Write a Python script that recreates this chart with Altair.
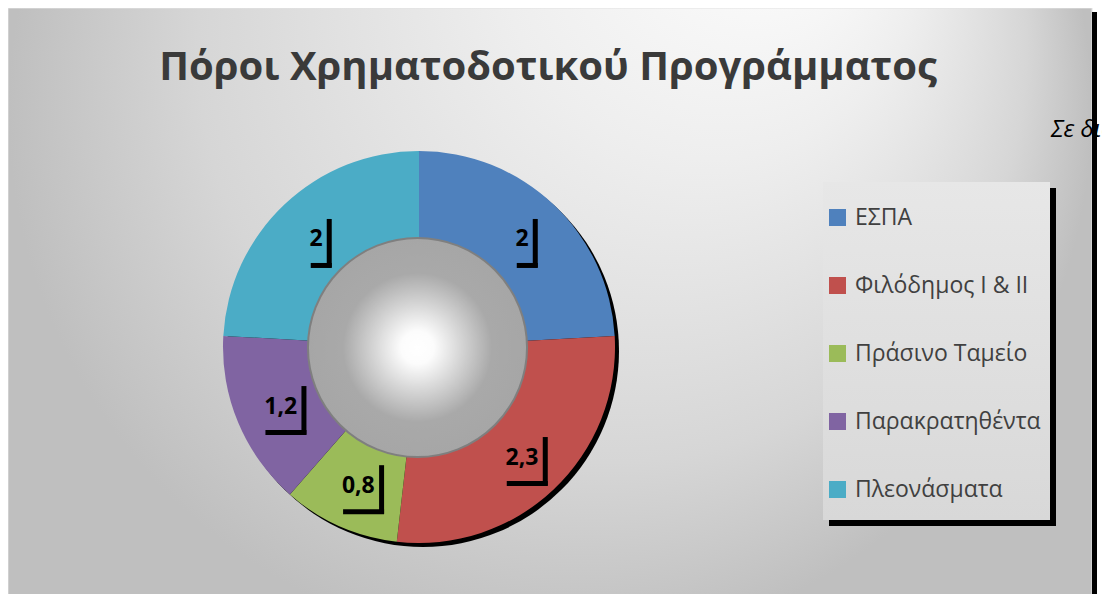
import math
import altair as alt
import pandas as pd

# ---- data ----
categories = ["ΕΣΠΑ", "Φιλόδημος I & II", "Πράσινο Ταμείο", "Παρακρατηθέντα", "Πλεονάσματα"]
values = [2.0, 2.3, 0.8, 1.2, 2.0]
colors = ["#4f81bd", "#c0504d", "#9bbb59", "#8064a2", "#4bacc6"]
title_text = ["Πόροι Χρηματοδοτικού Προγράμματος"]
unit_text = ["Σε δισ. €"]

# ---- layout (view pixels) ----
W, H = 1094, 586
CX, CY = 411, 339
R_OUT, R_IN, R_LAB = 196, 100, 150

df = pd.DataFrame({"cat": categories, "value": values, "idx": list(range(len(values)))})

total = sum(values)
rows = []
cum = 0.0
for c, v in zip(categories, values):
    mid = (cum + v / 2) / total * 2 * math.pi
    cum += v
    lx = CX + R_LAB * math.sin(mid)
    ly = CY - R_LAB * math.cos(mid)
    lab = f"{v:g}".replace(".", ",")
    w = sum(6.5 if ch == "," else 13.5 for ch in lab)
    rows.append(dict(label=lab, x=lx, yb=ly + 8.5,
                     vx=lx + w / 2 + 6.5, vy1=ly - 19, vy2=ly + 29.5,
                     hx1=lx - w / 2 + 1.5, hx2=lx + w / 2 + 9, hy=ly + 27.5))
lab_df = pd.DataFrame(rows)

one = pd.DataFrame({"k": [0]})
FULL = 2 * math.pi

bg_grad = {
    "gradient": "radial",
    "x1": 0.73, "y1": 0.09, "r1": 0.03,
    "x2": 0.5, "y2": 0.32, "r2": 0.5,
    "stops": [
        {"offset": 0.0, "color": "#ffffff"},
        {"offset": 0.35, "color": "#eeeeee"},
        {"offset": 0.75, "color": "#d6d6d6"},
        {"offset": 1.0, "color": "#bfbfbf"},
    ],
}
hole_grad = {
    "gradient": "radial",
    "x1": 0.5, "y1": 0.5, "r1": 0.0,
    "x2": 0.5, "y2": 0.5, "r2": 0.5,
    "stops": [
        {"offset": 0.0, "color": "#ffffff"},
        {"offset": 0.15, "color": "#fcfcfc"},
        {"offset": 0.68, "color": "#a9a9a9"},
        {"offset": 1.0, "color": "#a6a6a6"},
    ],
}
legend_grad = {
    "gradient": "linear",
    "x1": 0, "y1": 0, "x2": 0, "y2": 1,
    "stops": [
        {"offset": 0.0, "color": "#e7e7e7"},
        {"offset": 1.0, "color": "#d8d8d8"},
    ],
}

background = alt.Chart(one).mark_rect(fill=bg_grad, stroke="#e2e2e2", strokeWidth=1).encode(
    x=alt.value(0), x2=alt.value(1084), y=alt.value(0), y2=alt.value(594)
)

title = alt.Chart(pd.DataFrame({"t": title_text})).mark_text(
    font="Open Sans", fontSize=40, fontWeight="bold", color="#3a3a3a",
    align="center", baseline="alphabetic"
).encode(x=alt.value(540), y=alt.value(72), text="t:N")

unit = alt.Chart(pd.DataFrame({"t": unit_text})).mark_text(
    font="Open Sans", fontSize=24, fontStyle="italic", color="black",
    align="left", baseline="alphabetic"
).encode(x=alt.value(1043), y=alt.value(129), text="t:N")

right_shadow = alt.Chart(one).mark_rect(color="black").encode(
    x=alt.value(1084), x2=alt.value(1089), y=alt.value(4), y2=alt.value(600)
)

pie_shadow = alt.Chart(one).mark_arc(radius=R_OUT, theta=0, theta2=FULL, color="black").encode(
    x=alt.value(CX + 4), y=alt.value(CY + 4)
)

pie = alt.Chart(df).mark_arc(radius=R_OUT, innerRadius=R_IN).encode(
    theta=alt.Theta("value:Q", stack=True),
    order=alt.Order("idx:Q"),
    color=alt.Color(
        "cat:N",
        sort=categories,
        scale=alt.Scale(domain=categories, range=colors),
        legend=alt.Legend(
            title=None, orient="none", legendX=818, legendY=198,
            symbolType="square", symbolSize=289, symbolStrokeWidth=0,
            labelFont="Open Sans", labelFontSize=23, labelColor="#404040",
            labelOffset=6, rowPadding=44, padding=0, labelLimit=400,
        ),
    ),
    x=alt.value(CX), y=alt.value(CY),
)

hole = alt.Chart(one).mark_arc(
    radius=109.5, theta=0, theta2=FULL, fill=hole_grad, stroke="#7f7f7f", strokeWidth=2
).encode(x=alt.value(CX - 1.5), y=alt.value(CY + 0.5))

lab_text = alt.Chart(lab_df).mark_text(
    font="Open Sans", fontSize=23, fontWeight="bold", color="black",
    align="center", baseline="alphabetic"
).encode(
    x=alt.X("x:Q", scale=None, axis=None),
    y=alt.Y("yb:Q", scale=None, axis=None),
    text="label:N",
)
lab_v = alt.Chart(lab_df).mark_rule(color="black", strokeWidth=5, strokeCap="butt").encode(
    x=alt.X("vx:Q", scale=None, axis=None),
    y=alt.Y("vy1:Q", scale=None, axis=None),
    y2="vy2:Q",
)
lab_h = alt.Chart(lab_df).mark_rule(color="black", strokeWidth=5, strokeCap="butt").encode(
    x=alt.X("hx1:Q", scale=None, axis=None),
    x2="hx2:Q",
    y=alt.Y("hy:Q", scale=None, axis=None),
)

legend_shadow = alt.Chart(one).mark_rect(color="black").encode(
    x=alt.value(821), x2=alt.value(1048), y=alt.value(180), y2=alt.value(518)
)
legend_box = alt.Chart(one).mark_rect(fill=legend_grad).encode(
    x=alt.value(815), x2=alt.value(1042), y=alt.value(174), y2=alt.value(512)
)

chart = alt.layer(
    background, title, unit, right_shadow,
    pie_shadow, pie, hole,
    lab_v, lab_h, lab_text,
    legend_shadow, legend_box,
).properties(
    width=W, height=H, padding=0, autosize=alt.AutoSizeParams(type="none"),
    background="white",
).configure_view(strokeWidth=0)

chart.save("out.html", embed_options={"renderer": "svg", "actions": False})
